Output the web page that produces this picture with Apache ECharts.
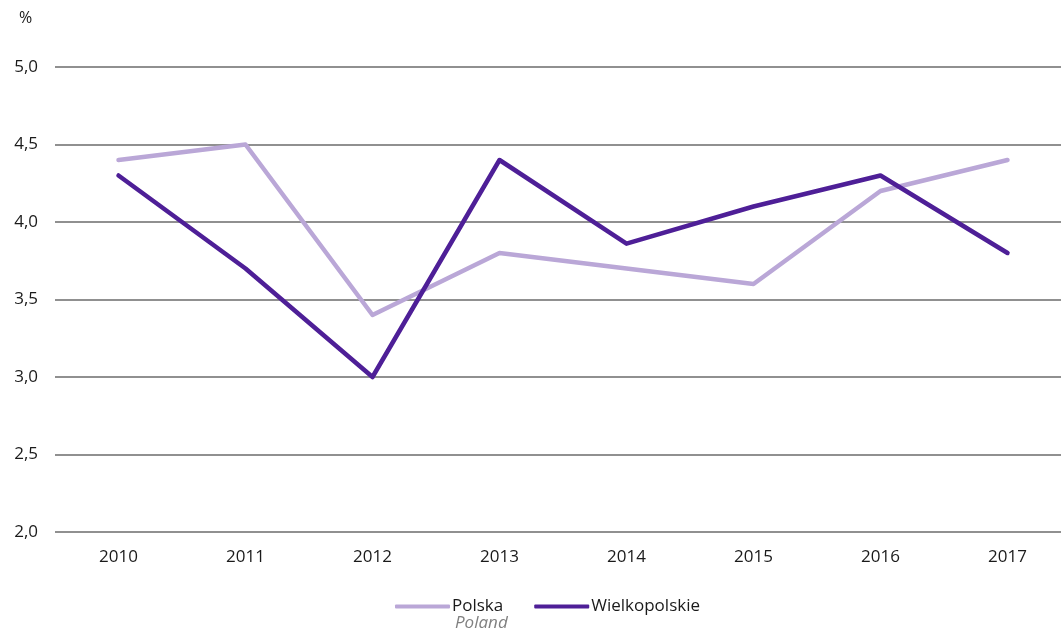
<!DOCTYPE html>
<html><head><meta charset="utf-8">
<script src="https://cdn.jsdelivr.net/npm/echarts@6/dist/echarts.min.js"></script>
<style>html,body{margin:0;padding:0;background:#fff}#c{width:1061px;height:634px}</style>
</head><body><div id="c"></div>
<script>
const years = ['2010','2011','2012','2013','2014','2015','2016','2017'];
const polska = [4.4, 4.5, 3.4, 3.8, 3.7, 3.6, 4.2, 4.4];
const wielkopolskie = [4.3, 3.7, 3.0, 4.4, 3.86, 4.1, 4.3, 3.8];
const yTicks = [2.0, 2.5, 3.0, 3.5, 4.0, 4.5, 5.0];

const font = '"Open Sans", "Noto Sans", sans-serif';
const chart = echarts.init(document.getElementById('c'));
chart.setOption({
  animation: false,
  textStyle: {fontFamily: font},
  grid: {left: 55, width: 1016, top: 67, bottom: 102, outerBoundsMode: 'none', containLabel: false},
  xAxis: {
    type: 'category', data: years, boundaryGap: true,
    axisLine: {show: false}, axisTick: {show: false},
    axisLabel: {color: '#1a1a1a', fontSize: 17, margin: 17, fontFamily: font}
  },
  yAxis: {
    type: 'value', min: yTicks[0], max: yTicks[yTicks.length-1], interval: 0.5,
    axisLine: {show: false}, axisTick: {show: false},
    axisLabel: {color: '#1a1a1a', fontSize: 17, margin: 17, fontFamily: font,
      formatter: v => v.toFixed(1).replace('.', ',')},
    splitLine: {lineStyle: {color: '#6b6b6b', width: 1.5}}
  },
  legend: {
    bottom: 19, left: 395, padding: 0, itemWidth: 55, itemHeight: 4, itemGap: 31,
    icon: 'roundRect',
    textStyle: {color: '#1a1a1a', fontSize: 17, fontFamily: font, padding: [0,0,0,-3]},
    data: ['Polska', 'Wielkopolskie']
  },
  graphic: [
    {type: 'text', left: 19, top: 10, style: {text: '%', fontSize: 16, fill: '#1a1a1a', fontFamily: font}},
    {type: 'text', left: 455, top: 615, style: {text: 'Poland', fontSize: 17, fontStyle: 'italic', fill: '#808080', fontFamily: font}}
  ],
  series: [
    {name: 'Polska', type: 'line', data: polska, symbol: 'none',
     lineStyle: {color: '#baa7d7', width: 4.5, cap: 'round', join: 'round'}, itemStyle: {color: '#baa7d7'}},
    {name: 'Wielkopolskie', type: 'line', data: wielkopolskie, symbol: 'none',
     lineStyle: {color: '#4e1f97', width: 4.5, cap: 'round', join: 'round'}, itemStyle: {color: '#4e1f97'}}
  ]
});
</script></body></html>
